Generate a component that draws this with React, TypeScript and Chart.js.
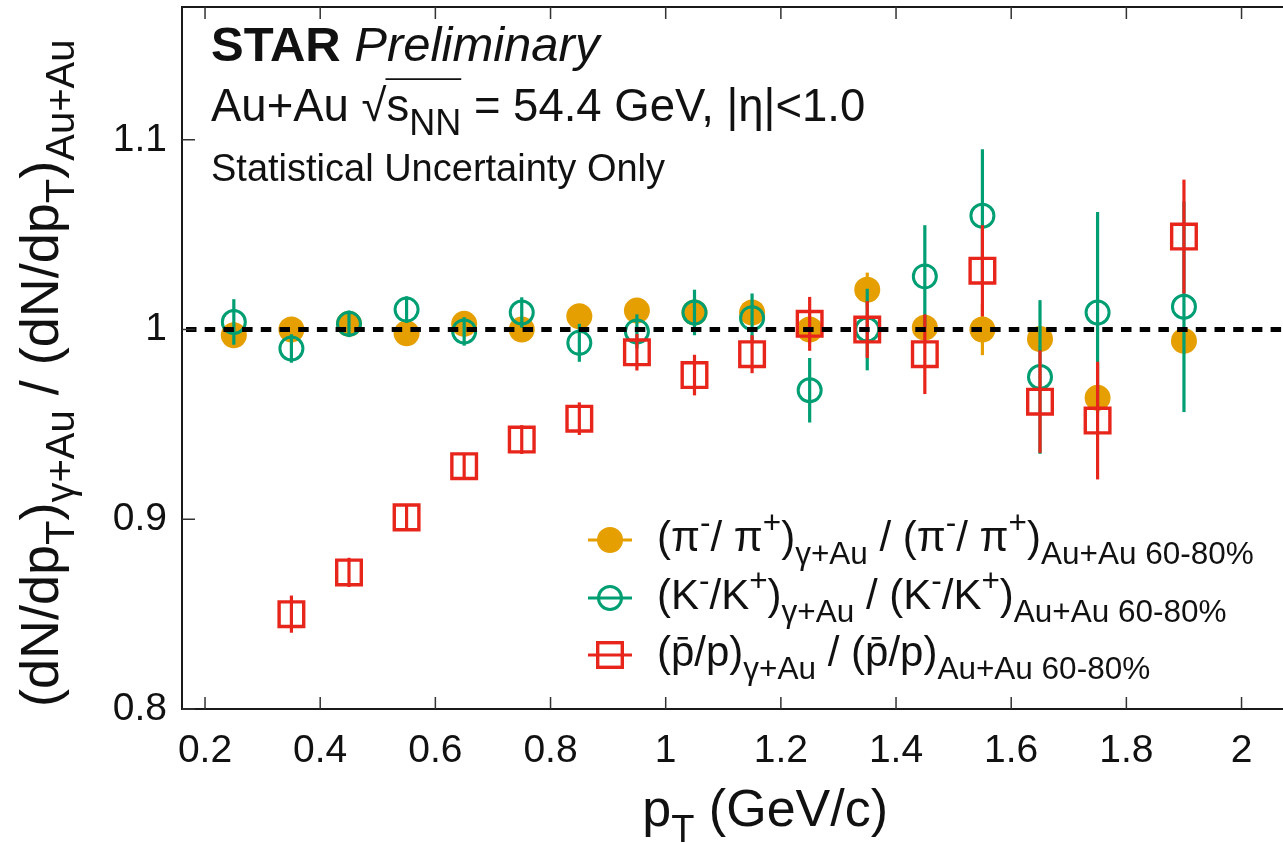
import React, { useEffect, useRef } from 'react';
import { Chart, registerables } from 'chart.js';

Chart.register(...registerables);

const FONT = '"Liberation Sans", Arial, Helvetica, sans-serif';

const ptPion = [0.25, 0.35, 0.45, 0.55, 0.65, 0.75, 0.85, 0.95, 1.05, 1.15, 1.25, 1.35, 1.45, 1.55, 1.65, 1.75, 1.9];
const pionRatio = [0.997, 1.0, 1.003, 0.998, 1.003, 1.0, 1.007, 1.010, 1.009, 1.009, 1.0, 1.021, 1.001, 1.0, 0.995, 0.964, 0.994];
const pionErr = [0.003, 0.003, 0.003, 0.003, 0.003, 0.004, 0.004, 0.004, 0.005, 0.005, 0.006, 0.009, 0.006, 0.0135, 0.006, 0.006, 0.006];

const ptKaon = [0.25, 0.35, 0.45, 0.55, 0.65, 0.75, 0.85, 0.95, 1.05, 1.15, 1.25, 1.35, 1.45, 1.55, 1.65, 1.75, 1.9];
const kaonRatio = [1.004, 0.990, 1.003, 1.0105, 0.999, 1.009, 0.993, 0.999, 1.009, 1.006, 0.968, 1.0, 1.028, 1.060, 0.975, 1.009, 1.012];
const kaonErr = [0.012, 0.0075, 0.007, 0.007, 0.0075, 0.008, 0.010, 0.009, 0.012, 0.013, 0.017, 0.0215, 0.027, 0.035, 0.0405, 0.053, 0.0555];

const ptProton = [0.35, 0.45, 0.55, 0.65, 0.75, 0.85, 0.95, 1.05, 1.15, 1.25, 1.35, 1.45, 1.55, 1.65, 1.75, 1.9];
const protonRatio = [0.850, 0.872, 0.901, 0.928, 0.942, 0.953, 0.988, 0.976, 0.987, 1.003, 1.0, 0.987, 1.031, 0.962, 0.952, 1.049];
const protonErr = [0.0098, 0.0077, 0.006, 0.006, 0.0076, 0.0086, 0.0096, 0.0107, 0.010, 0.0142, 0.015, 0.021, 0.024, 0.027, 0.031, 0.030];

const xTickValues = [0.2, 0.4, 0.6, 0.8, 1.0, 1.2, 1.4, 1.6, 1.8, 2.0];
const yTickValues = [0.8, 0.9, 1.0, 1.1];

const ORANGE = '#e69f00';
const GREEN = '#009e73';
const RED = '#e8251b';
const INK = '#111111';

type Seg = { t: string; k?: 'sub' | 'sup'; w?: string; bar?: boolean; over?: boolean };

function segFont(s: Seg, size: number, sub: number) {
  const fs = s.k ? sub : size;
  return `${s.w ?? 'normal'} ${fs}px ${FONT}`;
}

function richWidth(ctx: CanvasRenderingContext2D, segs: Seg[], size: number, sub: number) {
  let w = 0;
  for (const s of segs) {
    ctx.font = segFont(s, size, sub);
    w += ctx.measureText(s.t).width;
  }
  return w;
}

function drawRich(ctx: CanvasRenderingContext2D, segs: Seg[], x: number, y: number, size: number, sub: number) {
  let cx = x;
  let overStart: number | null = null;
  ctx.textAlign = 'left';
  ctx.textBaseline = 'alphabetic';
  for (const s of segs) {
    ctx.font = segFont(s, size, sub);
    const dy = s.k === 'sub' ? size * 0.3 : s.k === 'sup' ? -size * 0.42 : 0;
    ctx.fillText(s.t, cx, y + dy);
    const w = ctx.measureText(s.t).width;
    if (s.bar) {
      ctx.save();
      ctx.strokeStyle = ctx.fillStyle as string;
      ctx.lineWidth = size * 0.06;
      ctx.beginPath();
      ctx.moveTo(cx + w * 0.28, y - size * 0.66);
      ctx.lineTo(cx + w * 0.72, y - size * 0.66);
      ctx.stroke();
      ctx.restore();
    }
    if (s.over && overStart === null) overStart = cx;
    if (!s.over && overStart !== null) {
      ctx.save();
      ctx.strokeStyle = ctx.fillStyle as string;
      ctx.lineWidth = 1.8;
      ctx.beginPath();
      ctx.moveTo(overStart - 1, y - size * 0.92);
      ctx.lineTo(cx, y - size * 0.92);
      ctx.stroke();
      ctx.restore();
      overStart = null;
    }
    cx += w;
  }
  return cx;
}

const errorBarPlugin = {
  id: 'errorBars',
  beforeDatasetDraw(chart: any, args: any) {
    const ds = chart.data.datasets[args.index];
    const errs: number[] = ds.errors;
    if (!errs) return;
    const ys = chart.scales.y;
    const ctx: CanvasRenderingContext2D = chart.ctx;
    ctx.save();
    ctx.strokeStyle = ds.barColor;
    ctx.lineWidth = 3.2;
    args.meta.data.forEach((el: any, i: number) => {
      const v = ds.data[i].y;
      const e = errs[i];
      ctx.beginPath();
      ctx.moveTo(el.x, ys.getPixelForValue(v - e));
      ctx.lineTo(el.x, ys.getPixelForValue(v + e));
      ctx.stroke();
    });
    ctx.restore();
  },
};

const framePlugin = {
  id: 'frame',
  afterDatasetsDraw(chart: any) {
    const ctx: CanvasRenderingContext2D = chart.ctx;
    const { left, right, top, bottom } = chart.chartArea;
    const xs = chart.scales.x;
    const ys = chart.scales.y;
    ctx.save();
    const y1 = ys.getPixelForValue(1.0);
    ctx.strokeStyle = '#000';
    ctx.lineWidth = 5;
    ctx.setLineDash([10.5, 8.2]);
    ctx.beginPath();
    ctx.moveTo(left + 4, y1);
    ctx.lineTo(right, y1);
    ctx.stroke();
    ctx.setLineDash([]);
    ctx.strokeStyle = '#1a1a1a';
    ctx.lineWidth = 2;
    ctx.beginPath();
    ctx.moveTo(right + 5, top);
    ctx.lineTo(left, top);
    ctx.lineTo(left, bottom);
    ctx.lineTo(right + 5, bottom);
    ctx.stroke();
    ctx.lineWidth = 1.5;
    ctx.strokeStyle = '#333';
    ctx.beginPath();
    for (const v of xTickValues) {
      const px = xs.getPixelForValue(v);
      ctx.moveTo(px, bottom);
      ctx.lineTo(px, bottom - 12);
      ctx.moveTo(px, top);
      ctx.lineTo(px, top + 12);
    }
    for (const v of yTickValues) {
      const py = ys.getPixelForValue(v);
      ctx.moveTo(left, py);
      ctx.lineTo(left + 13, py);
    }
    ctx.stroke();
    ctx.restore();
  },
};

const textPlugin = {
  id: 'texts',
  afterDraw(chart: any) {
    const ctx: CanvasRenderingContext2D = chart.ctx;
    ctx.save();
    ctx.fillStyle = INK;
    drawRich(ctx, [{ t: 'STAR', w: 'bold' }, { t: ' ' }, { t: 'Preliminary', w: 'italic' }], 211, 61, 49, 36);
    drawRich(
      ctx,
      [
        { t: 'Au+Au ' },
        { t: '√' },
        { t: 's', over: true },
        { t: 'NN', k: 'sub', over: true },
        { t: ' = 54.4 GeV, |η|<1.0' },
      ],
      211,
      121,
      45.5,
      36
    );
    drawRich(ctx, [{ t: 'Statistical Uncertainty Only' }], 211, 181, 38, 30);

    const xt: Seg[] = [{ t: 'p' }, { t: 'T', k: 'sub' }, { t: ' (GeV/c)' }];
    const xw = richWidth(ctx, xt, 52, 38);
    drawRich(ctx, xt, 888 - xw, 826, 52, 38);

    const yt: Seg[] = [
      { t: '(dN/dp' },
      { t: 'T', k: 'sub' },
      { t: ')' },
      { t: 'γ+Au', k: 'sub' },
      { t: ' / (dN/dp' },
      { t: 'T', k: 'sub' },
      { t: ')' },
      { t: 'Au+Au', k: 'sub' },
    ];
    ctx.save();
    ctx.translate(58, 707);
    ctx.rotate(-Math.PI / 2);
    drawRich(ctx, yt, 0, 0, 54, 40);
    ctx.restore();

    const rows: { color: string; kind: string; segs: Seg[] }[] = [
      {
        color: ORANGE,
        kind: 'filled',
        segs: [
          { t: '(π' }, { t: '-', k: 'sup' }, { t: '/ π' }, { t: '+', k: 'sup' }, { t: ')' },
          { t: 'γ+Au', k: 'sub' },
          { t: ' / (π' }, { t: '-', k: 'sup' }, { t: '/ π' }, { t: '+', k: 'sup' }, { t: ')' },
          { t: 'Au+Au 60-80%', k: 'sub' },
        ],
      },
      {
        color: GREEN,
        kind: 'circle',
        segs: [
          { t: '(K' }, { t: '-', k: 'sup' }, { t: '/K' }, { t: '+', k: 'sup' }, { t: ')' },
          { t: 'γ+Au', k: 'sub' },
          { t: ' / (K' }, { t: '-', k: 'sup' }, { t: '/K' }, { t: '+', k: 'sup' }, { t: ')' },
          { t: 'Au+Au 60-80%', k: 'sub' },
        ],
      },
      {
        color: RED,
        kind: 'square',
        segs: [
          { t: '(' }, { t: 'p', bar: true }, { t: '/p)' },
          { t: 'γ+Au', k: 'sub' },
          { t: ' / (' }, { t: 'p', bar: true }, { t: '/p)' },
          { t: 'Au+Au 60-80%', k: 'sub' },
        ],
      },
    ];
    const rowY = [540, 598, 655];
    rows.forEach((r, i) => {
      const cy = rowY[i];
      const cx = 610;
      ctx.save();
      ctx.strokeStyle = r.color;
      ctx.fillStyle = r.color;
      ctx.lineWidth = 3.2;
      ctx.beginPath();
      ctx.moveTo(588, cy);
      ctx.lineTo(632, cy);
      ctx.stroke();
      if (r.kind === 'filled') {
        ctx.beginPath();
        ctx.arc(cx, cy, 13, 0, Math.PI * 2);
        ctx.fill();
      } else if (r.kind === 'circle') {
        ctx.lineWidth = 3;
        ctx.beginPath();
        ctx.arc(cx, cy, 11.5, 0, Math.PI * 2);
        ctx.stroke();
      } else {
        ctx.lineWidth = 3.4;
        ctx.strokeRect(cx - 12.3, cy - 12.3, 24.6, 24.6);
      }
      ctx.restore();
      ctx.fillStyle = INK;
      drawRich(ctx, r.segs, 657, cy + 11, 42, 31.5);
    });
    ctx.restore();
  },
};

function pts(xs: number[], ys: number[]) {
  return xs.map((x, i) => ({ x, y: ys[i] }));
}

function fmtTick(v: number) {
  return String(Number(v.toFixed(2)));
}

function zeroPad(s: any) {
  s.paddingLeft = 0;
  s.paddingRight = 0;
  s.paddingTop = 0;
  s.paddingBottom = 0;
}

export default function App() {
  const ref = useRef<HTMLCanvasElement | null>(null);

  useEffect(() => {
    if (!ref.current) return;
    const chart = new Chart(ref.current, {
      type: 'scatter',
      data: {
        datasets: [
          {
            label: 'pion',
            data: pts(ptPion, pionRatio),
            errors: pionErr,
            barColor: ORANGE,
            order: 3,
            pointStyle: 'circle',
            pointRadius: 13,
            pointHoverRadius: 13,
            backgroundColor: ORANGE,
            borderColor: ORANGE,
            borderWidth: 0,
            showLine: false,
          } as any,
          {
            label: 'kaon',
            data: pts(ptKaon, kaonRatio),
            errors: kaonErr,
            barColor: GREEN,
            order: 2,
            pointStyle: 'circle',
            pointRadius: 11.5,
            pointHoverRadius: 11.5,
            backgroundColor: 'rgba(0,0,0,0)',
            borderColor: GREEN,
            borderWidth: 3,
            showLine: false,
          } as any,
          {
            label: 'proton',
            data: pts(ptProton, protonRatio),
            errors: protonErr,
            barColor: RED,
            order: 1,
            pointStyle: 'rect',
            pointRadius: 17.4,
            pointHoverRadius: 17.4,
            backgroundColor: 'rgba(0,0,0,0)',
            borderColor: RED,
            borderWidth: 3.4,
            showLine: false,
          } as any,
        ],
      },
      options: {
        responsive: false,
        animation: false,
        events: [],
        layout: { autoPadding: false, padding: { top: 7, left: 0, right: 0, bottom: 0 } },
        plugins: { legend: { display: false }, tooltip: { enabled: false } },
        scales: {
          x: {
            type: 'linear',
            min: 0.16,
            max: 2.072,
            grid: { display: false, drawTicks: false },
            border: { display: false },
            ticks: {
              color: INK,
              font: { family: FONT, size: 39 },
              padding: 19,
              maxRotation: 0,
              autoSkip: false,
              callback: (v: any) => fmtTick(Number(v)),
            },
            afterBuildTicks: (s: any) => {
              s.ticks = xTickValues.map((value) => ({ value }));
            },
            afterFit: (s: any) => {
              s.height = 134;
              zeroPad(s);
            },
          },
          y: {
            type: 'linear',
            min: 0.8,
            max: 1.17,
            grid: { display: false, drawTicks: false },
            border: { display: false },
            ticks: {
              color: INK,
              font: { family: FONT, size: 39 },
              padding: 15,
              autoSkip: false,
              callback: (v: any) => fmtTick(Number(v)),
            },
            afterBuildTicks: (s: any) => {
              s.ticks = yTickValues.map((value) => ({ value }));
            },
            afterFit: (s: any) => {
              s.width = 182;
              zeroPad(s);
            },
          },
        },
      } as any,
      plugins: [errorBarPlugin, framePlugin, textPlugin],
    });
    return () => chart.destroy();
  }, []);

  return (
    <div style={{ position: 'absolute', left: 0, top: 0, width: 1283, height: 843, background: '#fff' }}>
      <canvas ref={ref} width={1283} height={843} style={{ display: 'block' }} />
    </div>
  );
}
